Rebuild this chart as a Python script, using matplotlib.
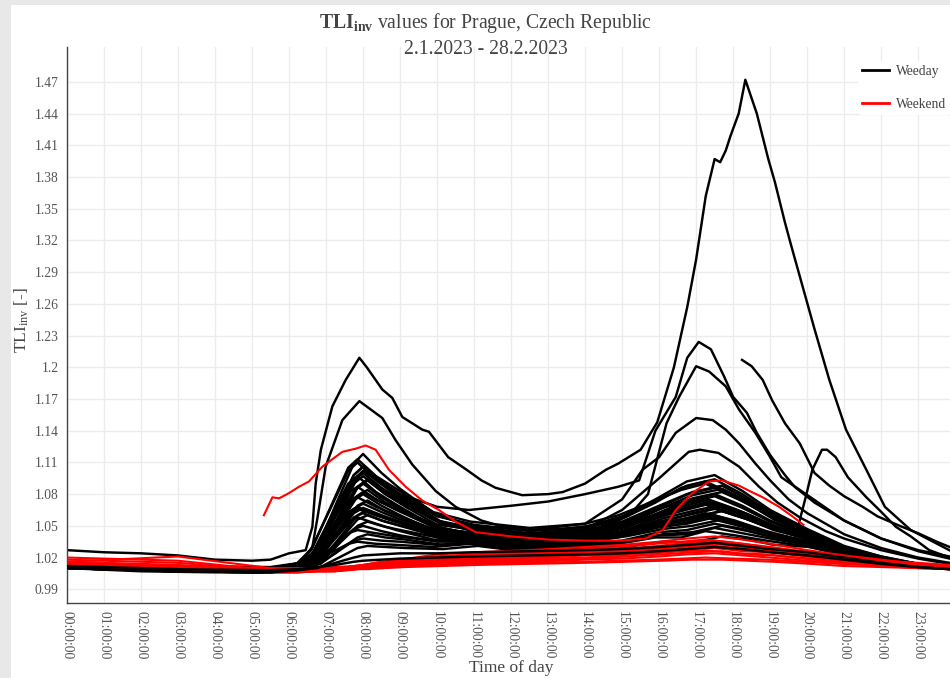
import matplotlib
matplotlib.use("Agg")
import matplotlib.pyplot as plt
from matplotlib.lines import Line2D
from matplotlib.patches import Rectangle

# ---------------- data ----------------
# three slightly different sampling grids: days peak a bit earlier / later
KEY_TIMES = [0, 3, 5.5, 6.25, 6.75, 7.25, 7.75, 8.0, 8.5, 9, 10, 11, 12.5, 14,
             15, 16, 16.75, 17.5, 18.25, 19, 20, 21, 22, 23, 23.85]
KEY_TIMES_EARLY = [0, 3, 5.5, 6.2, 6.6, 7.1, 7.6, 7.85, 8.35, 8.9, 9.9, 10.9, 12.5, 14,
                   14.9, 15.9, 16.6, 17.25, 18.05, 18.9, 19.9, 21, 22, 23, 23.85]
KEY_TIMES_LATE = [0, 3, 5.5, 6.3, 6.85, 7.35, 7.85, 8.12, 8.6, 9.15, 10.15, 11.1, 12.5, 14,
                  15.1, 16.1, 16.9, 17.7, 18.4, 19.1, 20.1, 21, 22, 23, 23.85]

WEEKDAY_ROWS = [
    [1.012, 1.009, 1.008, 1.012, 1.028, 1.069, 1.109, 1.118, 1.100, 1.085, 1.060, 1.049, 1.043, 1.047, 1.058, 1.077, 1.092, 1.098, 1.083, 1.065, 1.047, 1.031, 1.021, 1.014, 1.011],
    [1.014, 1.011, 1.010, 1.014, 1.028, 1.065, 1.102, 1.110, 1.093, 1.079, 1.056, 1.046, 1.040, 1.044, 1.055, 1.072, 1.086, 1.092, 1.079, 1.062, 1.045, 1.030, 1.020, 1.014, 1.011],
    [1.011, 1.008, 1.007, 1.011, 1.024, 1.060, 1.096, 1.104, 1.088, 1.075, 1.053, 1.044, 1.038, 1.042, 1.051, 1.067, 1.079, 1.085, 1.073, 1.058, 1.043, 1.029, 1.020, 1.013, 1.011],
    [1.013, 1.010, 1.009, 1.013, 1.025, 1.059, 1.093, 1.100, 1.086, 1.075, 1.055, 1.048, 1.042, 1.046, 1.053, 1.066, 1.074, 1.080, 1.069, 1.055, 1.042, 1.028, 1.019, 1.013, 1.011],
    [1.010, 1.007, 1.006, 1.010, 1.022, 1.056, 1.090, 1.097, 1.082, 1.070, 1.050, 1.042, 1.036, 1.040, 1.048, 1.061, 1.070, 1.076, 1.066, 1.053, 1.040, 1.028, 1.019, 1.013, 1.010],
    [1.015, 1.012, 1.011, 1.015, 1.026, 1.056, 1.086, 1.093, 1.080, 1.070, 1.051, 1.045, 1.039, 1.043, 1.053, 1.069, 1.082, 1.088, 1.075, 1.060, 1.044, 1.029, 1.020, 1.014, 1.011],
    [1.012, 1.009, 1.008, 1.012, 1.023, 1.053, 1.083, 1.090, 1.077, 1.066, 1.047, 1.040, 1.034, 1.038, 1.045, 1.058, 1.066, 1.072, 1.063, 1.051, 1.039, 1.027, 1.019, 1.013, 1.010],
    [1.011, 1.008, 1.007, 1.011, 1.021, 1.051, 1.081, 1.087, 1.075, 1.065, 1.049, 1.043, 1.037, 1.041, 1.047, 1.058, 1.064, 1.070, 1.061, 1.050, 1.039, 1.027, 1.019, 1.013, 1.010],
    [1.014, 1.011, 1.010, 1.014, 1.023, 1.051, 1.078, 1.084, 1.072, 1.063, 1.046, 1.041, 1.035, 1.039, 1.048, 1.064, 1.076, 1.082, 1.071, 1.056, 1.042, 1.029, 1.020, 1.013, 1.011],
    [1.013, 1.010, 1.009, 1.013, 1.022, 1.048, 1.074, 1.080, 1.069, 1.060, 1.044, 1.039, 1.033, 1.037, 1.043, 1.054, 1.060, 1.066, 1.058, 1.048, 1.037, 1.026, 1.018, 1.013, 1.010],
    [1.010, 1.007, 1.006, 1.010, 1.019, 1.045, 1.071, 1.077, 1.068, 1.060, 1.047, 1.044, 1.038, 1.042, 1.049, 1.060, 1.068, 1.074, 1.064, 1.052, 1.040, 1.027, 1.019, 1.013, 1.010],
    [1.012, 1.009, 1.008, 1.012, 1.020, 1.044, 1.069, 1.074, 1.064, 1.056, 1.042, 1.038, 1.032, 1.036, 1.042, 1.052, 1.058, 1.064, 1.056, 1.046, 1.037, 1.026, 1.018, 1.013, 1.010],
    [1.011, 1.008, 1.007, 1.011, 1.019, 1.042, 1.066, 1.071, 1.063, 1.056, 1.045, 1.042, 1.036, 1.040, 1.048, 1.062, 1.072, 1.078, 1.067, 1.054, 1.041, 1.028, 1.019, 1.013, 1.011],
    [1.014, 1.011, 1.010, 1.014, 1.020, 1.042, 1.063, 1.068, 1.060, 1.054, 1.042, 1.040, 1.034, 1.038, 1.042, 1.050, 1.054, 1.060, 1.053, 1.044, 1.036, 1.025, 1.018, 1.012, 1.010],
    [1.010, 1.007, 1.006, 1.010, 1.017, 1.038, 1.060, 1.065, 1.057, 1.051, 1.039, 1.037, 1.031, 1.035, 1.042, 1.054, 1.062, 1.068, 1.059, 1.049, 1.038, 1.026, 1.018, 1.013, 1.010],
    [1.013, 1.010, 1.009, 1.013, 1.019, 1.038, 1.058, 1.062, 1.055, 1.050, 1.040, 1.039, 1.033, 1.037, 1.041, 1.049, 1.052, 1.058, 1.051, 1.043, 1.035, 1.025, 1.018, 1.012, 1.010],
    [1.012, 1.009, 1.008, 1.012, 1.017, 1.036, 1.054, 1.058, 1.052, 1.046, 1.037, 1.036, 1.030, 1.034, 1.040, 1.050, 1.056, 1.062, 1.055, 1.045, 1.036, 1.026, 1.018, 1.012, 1.010],
    [1.011, 1.008, 1.007, 1.011, 1.015, 1.033, 1.050, 1.054, 1.049, 1.045, 1.038, 1.038, 1.032, 1.036, 1.040, 1.047, 1.050, 1.056, 1.050, 1.042, 1.034, 1.025, 1.017, 1.012, 1.010],
    [1.013, 1.010, 1.009, 1.013, 1.016, 1.032, 1.047, 1.050, 1.045, 1.041, 1.035, 1.035, 1.029, 1.033, 1.036, 1.044, 1.046, 1.052, 1.047, 1.040, 1.033, 1.024, 1.017, 1.012, 1.010],
    [1.010, 1.007, 1.006, 1.010, 1.013, 1.028, 1.043, 1.046, 1.043, 1.040, 1.036, 1.037, 1.031, 1.035, 1.039, 1.048, 1.052, 1.058, 1.051, 1.043, 1.035, 1.025, 1.018, 1.012, 1.010],
    [1.012, 1.009, 1.008, 1.012, 1.014, 1.027, 1.039, 1.042, 1.039, 1.037, 1.032, 1.034, 1.028, 1.032, 1.035, 1.042, 1.044, 1.050, 1.045, 1.039, 1.033, 1.024, 1.017, 1.012, 1.010],
    [1.011, 1.008, 1.007, 1.011, 1.013, 1.024, 1.036, 1.038, 1.036, 1.035, 1.032, 1.035, 1.029, 1.033, 1.035, 1.041, 1.042, 1.048, 1.043, 1.038, 1.032, 1.023, 1.017, 1.012, 1.010],
    [1.014, 1.011, 1.010, 1.014, 1.015, 1.024, 1.033, 1.035, 1.033, 1.032, 1.030, 1.033, 1.027, 1.031, 1.033, 1.039, 1.039, 1.045, 1.041, 1.036, 1.031, 1.023, 1.017, 1.012, 1.010],
    [1.011, 1.008, 1.007, 1.011, 1.011, 1.020, 1.029, 1.031, 1.030, 1.029, 1.028, 1.031, 1.025, 1.029, 1.030, 1.035, 1.034, 1.040, 1.037, 1.032, 1.030, 1.022, 1.016, 1.012, 1.009],
    [1.013, 1.010, 1.009, 1.013, 1.026, 1.062, 1.098, 1.106, 1.091, 1.079, 1.059, 1.051, 1.045, 1.049, 1.059, 1.075, 1.088, 1.094, 1.080, 1.063, 1.046, 1.030, 1.021, 1.014, 1.011],
    [1.012, 1.009, 1.008, 1.012, 1.027, 1.066, 1.105, 1.113, 1.097, 1.085, 1.063, 1.054, 1.048, 1.052, 1.060, 1.074, 1.084, 1.090, 1.077, 1.061, 1.045, 1.030, 1.020, 1.014, 1.011],
    [1.011, 1.008, 1.007, 1.011, 1.023, 1.055, 1.087, 1.094, 1.080, 1.068, 1.048, 1.041, 1.035, 1.039, 1.045, 1.057, 1.064, 1.070, 1.061, 1.050, 1.039, 1.027, 1.019, 1.013, 1.010],
    [1.013, 1.010, 1.009, 1.013, 1.022, 1.049, 1.076, 1.082, 1.072, 1.064, 1.051, 1.047, 1.041, 1.045, 1.054, 1.069, 1.080, 1.086, 1.074, 1.059, 1.043, 1.029, 1.020, 1.013, 1.011],
    [1.012, 1.009, 1.008, 1.012, 1.018, 1.040, 1.061, 1.066, 1.060, 1.054, 1.045, 1.044, 1.038, 1.042, 1.048, 1.059, 1.066, 1.072, 1.063, 1.051, 1.039, 1.027, 1.019, 1.013, 1.010],
    [1.010, 1.007, 1.006, 1.010, 1.016, 1.036, 1.056, 1.060, 1.054, 1.049, 1.041, 1.040, 1.034, 1.038, 1.043, 1.053, 1.058, 1.064, 1.056, 1.047, 1.037, 1.026, 1.018, 1.013, 1.010],
]

# weekdays that look like holidays (drawn on top of the red bundle)
HOLIDAY_ROWS = [
    [1.010, 1.007, 1.006, 1.008, 1.010, 1.015, 1.020, 1.022, 1.023, 1.024, 1.024, 1.025, 1.026, 1.027, 1.028, 1.030, 1.032, 1.034, 1.031, 1.028, 1.025, 1.020, 1.015, 1.011, 1.009],
    [1.012, 1.009, 1.008, 1.009, 1.011, 1.013, 1.016, 1.017, 1.018, 1.019, 1.020, 1.021, 1.022, 1.023, 1.024, 1.026, 1.028, 1.030, 1.028, 1.025, 1.022, 1.018, 1.014, 1.011, 1.009],
]

WEEKEND_ROWS = [
    [1.020, 1.017, 1.008, 1.008, 1.009, 1.009, 1.012, 1.013, 1.016, 1.018, 1.023, 1.025, 1.027, 1.030, 1.032, 1.035, 1.038, 1.040, 1.037, 1.033, 1.027, 1.022, 1.018, 1.014, 1.012],
    [1.016, 1.013, 1.007, 1.007, 1.008, 1.008, 1.011, 1.012, 1.015, 1.017, 1.021, 1.023, 1.025, 1.028, 1.030, 1.033, 1.035, 1.037, 1.034, 1.030, 1.025, 1.020, 1.016, 1.013, 1.011],
    [1.014, 1.012, 1.009, 1.009, 1.010, 1.010, 1.012, 1.013, 1.015, 1.017, 1.021, 1.022, 1.024, 1.027, 1.028, 1.031, 1.033, 1.035, 1.032, 1.029, 1.025, 1.021, 1.017, 1.015, 1.013],
    [1.012, 1.009, 1.006, 1.006, 1.007, 1.007, 1.009, 1.010, 1.013, 1.015, 1.018, 1.020, 1.022, 1.025, 1.026, 1.029, 1.031, 1.033, 1.030, 1.027, 1.023, 1.018, 1.015, 1.012, 1.010],
    [1.018, 1.015, 1.008, 1.008, 1.009, 1.009, 1.011, 1.012, 1.013, 1.015, 1.018, 1.020, 1.021, 1.024, 1.025, 1.028, 1.030, 1.032, 1.029, 1.027, 1.023, 1.019, 1.016, 1.014, 1.012],
    [1.011, 1.009, 1.007, 1.007, 1.008, 1.008, 1.010, 1.011, 1.012, 1.014, 1.017, 1.019, 1.020, 1.023, 1.024, 1.027, 1.029, 1.030, 1.027, 1.025, 1.021, 1.016, 1.013, 1.011, 1.009],
    [1.013, 1.012, 1.010, 1.010, 1.010, 1.011, 1.012, 1.013, 1.014, 1.015, 1.017, 1.018, 1.019, 1.022, 1.023, 1.026, 1.028, 1.029, 1.026, 1.025, 1.021, 1.017, 1.015, 1.012, 1.011],
    [1.010, 1.008, 1.006, 1.006, 1.007, 1.007, 1.008, 1.009, 1.011, 1.013, 1.015, 1.017, 1.018, 1.020, 1.022, 1.024, 1.026, 1.027, 1.024, 1.023, 1.019, 1.015, 1.013, 1.010, 1.009],
    [1.015, 1.012, 1.008, 1.008, 1.008, 1.009, 1.010, 1.011, 1.012, 1.013, 1.015, 1.016, 1.017, 1.019, 1.021, 1.023, 1.025, 1.026, 1.023, 1.022, 1.019, 1.016, 1.013, 1.011, 1.010],
    [1.012, 1.010, 1.007, 1.007, 1.007, 1.008, 1.009, 1.010, 1.011, 1.012, 1.014, 1.015, 1.016, 1.018, 1.019, 1.021, 1.023, 1.024, 1.022, 1.020, 1.017, 1.014, 1.012, 1.010, 1.009],
    [1.011, 1.010, 1.009, 1.009, 1.009, 1.009, 1.010, 1.010, 1.011, 1.012, 1.013, 1.014, 1.015, 1.016, 1.017, 1.018, 1.019, 1.020, 1.019, 1.018, 1.016, 1.014, 1.013, 1.012, 1.011],
    [1.014, 1.012, 1.008, 1.008, 1.008, 1.008, 1.009, 1.009, 1.010, 1.011, 1.012, 1.013, 1.014, 1.015, 1.016, 1.017, 1.018, 1.018, 1.017, 1.016, 1.014, 1.012, 1.011, 1.010, 1.010],
    [1.013, 1.010, 1.006, 1.006, 1.007, 1.007, 1.009, 1.011, 1.013, 1.015, 1.019, 1.021, 1.023, 1.026, 1.028, 1.031, 1.034, 1.036, 1.033, 1.030, 1.025, 1.020, 1.016, 1.013, 1.011],
    [1.016, 1.021, 1.010, 1.007, 1.008, 1.008, 1.010, 1.011, 1.013, 1.015, 1.018, 1.020, 1.021, 1.024, 1.025, 1.028, 1.030, 1.031, 1.029, 1.026, 1.022, 1.018, 1.014, 1.012, 1.010],
]

# outstanding weekday curves
PEAK_DAY_T = [0, 1, 2, 3, 4, 5, 5.5, 6.0, 6.45, 6.63, 6.72, 6.86, 7.17, 7.53, 7.9, 8.1, 8.52, 8.79, 9.06, 9.6, 9.78, 10.3, 10.8, 11.2, 11.58, 12.3, 13.0, 13.4, 14.0, 14.56, 14.9, 15.5, 15.95, 16.4, 16.76, 17.0, 17.26, 17.5, 17.65, 17.8, 17.93, 18.15, 18.33, 18.64, 18.95, 19.13, 19.4, 19.57, 20.2, 20.6, 21.05, 21.6, 22.1, 22.8, 23.84]
PEAK_DAY_V = [1.027, 1.025, 1.024, 1.022, 1.018, 1.017, 1.018, 1.024, 1.027, 1.049, 1.090, 1.122, 1.163, 1.188, 1.209, 1.200, 1.179, 1.171, 1.153, 1.141, 1.139, 1.115, 1.103, 1.093, 1.086, 1.079, 1.080, 1.082, 1.090, 1.103, 1.109, 1.122, 1.148, 1.200, 1.257, 1.302, 1.362, 1.397, 1.394, 1.405, 1.419, 1.440, 1.472, 1.440, 1.397, 1.375, 1.337, 1.315, 1.236, 1.188, 1.141, 1.103, 1.068, 1.046, 1.027]

SECOND_DAY_T = [0, 2, 4, 5.5, 6.3, 6.63, 6.77, 6.99, 7.44, 7.9, 8.52, 8.88, 9.33, 9.96, 10.5, 11.2, 11.7, 12.5, 13.5, 14.5, 15.2, 15.7, 16.2, 16.54, 17.0, 17.35, 17.8, 18.16, 18.6, 19.0, 19.3, 19.8, 20.3, 21.0, 22.0, 23.0, 23.85]
SECOND_DAY_V = [1.014, 1.011, 1.009, 1.010, 1.015, 1.030, 1.058, 1.106, 1.150, 1.168, 1.152, 1.131, 1.108, 1.083, 1.068, 1.055, 1.050, 1.046, 1.047, 1.052, 1.060, 1.080, 1.147, 1.172, 1.201, 1.196, 1.182, 1.160, 1.138, 1.115, 1.096, 1.084, 1.072, 1.055, 1.038, 1.026, 1.019]

THIRD_DAY_T = [0, 2, 4, 5.5, 6.25, 6.75, 7.25, 7.75, 8.0, 8.5, 9.0, 10.0, 10.86, 12.0, 13.0, 14.0, 14.9, 15.46, 15.9, 16.45, 16.76, 17.07, 17.4, 17.76, 18.0, 18.37, 18.64, 19.0, 19.4, 19.66, 20.2, 21.0, 22.0, 23.0, 23.85]
THIRD_DAY_V = [1.012, 1.009, 1.008, 1.008, 1.012, 1.026, 1.060, 1.094, 1.102, 1.090, 1.080, 1.068, 1.065, 1.069, 1.073, 1.080, 1.087, 1.093, 1.140, 1.172, 1.209, 1.224, 1.217, 1.191, 1.172, 1.157, 1.138, 1.117, 1.098, 1.087, 1.072, 1.055, 1.038, 1.027, 1.021]

FOURTH_DAY_T = [0, 2, 4, 5.5, 6.25, 6.75, 7.25, 7.75, 8.0, 8.5, 9.0, 10.0, 11.0, 12.5, 14.0, 15.0, 15.55, 16.0, 16.45, 17.0, 17.45, 17.8, 18.16, 18.6, 19.0, 19.5, 20.0, 21.0, 22.0, 23.0, 23.85]
FOURTH_DAY_V = [1.013, 1.010, 1.009, 1.009, 1.013, 1.027, 1.063, 1.098, 1.106, 1.092, 1.080, 1.060, 1.050, 1.046, 1.052, 1.075, 1.103, 1.115, 1.138, 1.152, 1.150, 1.141, 1.128, 1.109, 1.093, 1.075, 1.062, 1.042, 1.029, 1.020, 1.015]

FIFTH_DAY_T = [0, 2, 4, 5.5, 6.25, 6.75, 7.25, 7.75, 8.0, 8.5, 9.0, 10.0, 11.0, 12.5, 14.0, 15.0, 16.0, 16.8, 17.1, 17.6, 18.16, 18.7, 19.2, 19.8, 20.5, 21.0, 22.0, 23.0, 23.85]
FIFTH_DAY_V = [1.011, 1.008, 1.007, 1.007, 1.011, 1.024, 1.058, 1.090, 1.097, 1.084, 1.073, 1.055, 1.046, 1.041, 1.047, 1.065, 1.095, 1.120, 1.122, 1.119, 1.106, 1.087, 1.072, 1.058, 1.045, 1.038, 1.027, 1.019, 1.014]

LATE_DAY_T = [0, 2, 4, 5.5, 6.25, 6.75, 7.25, 7.75, 8.0, 8.5, 9.0, 10.0, 11.0, 12.5, 14.0, 15.0, 16.0, 16.75, 17.5, 18.25, 19.0, 19.65, 19.96, 20.14, 20.4, 20.54, 20.77, 21.1, 21.6, 21.95, 22.4, 22.8, 23.3, 23.85]
LATE_DAY_V = [1.010, 1.007, 1.006, 1.006, 1.010, 1.018, 1.040, 1.062, 1.067, 1.060, 1.054, 1.043, 1.040, 1.035, 1.038, 1.043, 1.052, 1.056, 1.060, 1.052, 1.042, 1.035, 1.077, 1.103, 1.122, 1.122, 1.115, 1.096, 1.077, 1.065, 1.049, 1.040, 1.027, 1.020]

EVENING_ONLY_T = [18.24, 18.5, 18.8, 19.05, 19.4, 19.8, 20.2, 20.6, 21.0, 21.5, 21.9, 22.5, 23.0, 23.5, 23.85]
EVENING_ONLY_V = [1.207, 1.201, 1.188, 1.169, 1.147, 1.128, 1.100, 1.088, 1.078, 1.068, 1.059, 1.050, 1.043, 1.035, 1.030]

# outstanding weekend curve (partial day)
WEEKEND_SPECIAL_T = [5.32, 5.55, 5.73, 6.0, 6.27, 6.54, 6.9, 7.44, 7.8, 8.07, 8.34, 8.7, 9.15, 9.6, 10.05, 10.5, 11.05, 12.0, 13.0, 14.0, 15.0, 15.64, 16.1, 16.45, 16.9, 17.35, 17.7, 18.16, 18.5, 18.8, 19.24, 19.6, 19.9]
WEEKEND_SPECIAL_V = [1.060, 1.077, 1.076, 1.081, 1.087, 1.092, 1.106, 1.120, 1.123, 1.126, 1.122, 1.103, 1.087, 1.074, 1.065, 1.054, 1.044, 1.040, 1.037, 1.036, 1.036, 1.038, 1.046, 1.065, 1.081, 1.092, 1.093, 1.088, 1.082, 1.077, 1.068, 1.059, 1.051]

HOUR_LABELS = [f"{h:02d}:00:00" for h in range(24)]
Y_TICKS = [0.99, 1.02, 1.05, 1.08, 1.11, 1.14, 1.17, 1.2, 1.23, 1.26, 1.29,
           1.32, 1.35, 1.38, 1.41, 1.44, 1.47]

# ---------------- styling ----------------
plt.rcParams["font.family"] = ["Liberation Serif", "DejaVu Serif"]
plt.rcParams["mathtext.fontset"] = "custom"
plt.rcParams["mathtext.rm"] = "Liberation Serif"
plt.rcParams["mathtext.bf"] = "Liberation Serif:bold"
plt.rcParams["mathtext.it"] = "Liberation Serif:italic"

W, H = 950, 678
fig = plt.figure(figsize=(W / 100, H / 100), dpi=100)
fig.patch.set_facecolor("#e8e8e8")
fig.add_artist(Rectangle((11 / W, 0), 1, 1 - 5 / H, transform=fig.transFigure,
                         facecolor="white", edgecolor="none", zorder=0))

ax = fig.add_axes([67 / W, 75 / H, 883 / W, 556 / H])
ax.set_facecolor("white")

BLACK_LW = 1.75
RED_LW = 1.5
GRIDS = [KEY_TIMES, KEY_TIMES_EARLY, KEY_TIMES_LATE]

for i, row in enumerate(WEEKDAY_ROWS):
    ax.plot(GRIDS[i % 3], row, color="black", lw=BLACK_LW, zorder=2)
for t, v in [(PEAK_DAY_T, PEAK_DAY_V), (SECOND_DAY_T, SECOND_DAY_V),
             (THIRD_DAY_T, THIRD_DAY_V), (FOURTH_DAY_T, FOURTH_DAY_V),
             (FIFTH_DAY_T, FIFTH_DAY_V), (LATE_DAY_T, LATE_DAY_V),
             (EVENING_ONLY_T, EVENING_ONLY_V)]:
    ax.plot(t, v, color="black", lw=BLACK_LW, zorder=2)
for i, row in enumerate(WEEKEND_ROWS):
    ax.plot(GRIDS[i % 3], row, color="red", lw=RED_LW, zorder=3)
ax.plot(WEEKEND_SPECIAL_T, WEEKEND_SPECIAL_V, color="red", lw=RED_LW, zorder=3)
for row in HOLIDAY_ROWS:
    ax.plot(KEY_TIMES, row, color="black", lw=BLACK_LW, zorder=4)

ax.set_xlim(0, 23.86)
ax.set_ylim(0.977, 1.503)
ax.set_xticks(range(24))
ax.set_xticklabels(HOUR_LABELS, rotation=-90)
ax.set_yticks(Y_TICKS)
ax.set_yticklabels([f"{v:g}" for v in Y_TICKS])
ax.tick_params(length=0, colors="#555555", labelsize=9.8, pad=6)
ax.grid(True, color="#ececec", lw=1.0, zorder=0)
ax.set_axisbelow(True)
for side in ["top", "right"]:
    ax.spines[side].set_visible(False)
for side in ["left", "bottom"]:
    ax.spines[side].set_color("#444444")
    ax.spines[side].set_linewidth(1.0)

fig.text(486 / W, 1 - 23 / H, r"$\mathbf{TLI}_{\mathbf{inv}}$ values for Prague, Czech Republic",
         ha="center", va="center", fontsize=14.2, color="#444444", zorder=10)
fig.text(486 / W, 1 - 49 / H, "2.1.2023 - 28.2.2023",
         ha="center", va="center", fontsize=14.1, color="#444444", zorder=10)
fig.text(22 / W, 1 - 320 / H, r"TLI$_{\mathrm{inv}}$ [-]", rotation=90,
         ha="center", va="center", fontsize=12.5, color="#444444")
fig.text(511 / W, 1 - 668 / H, "Time of day", ha="center", va="center",
         fontsize=12.5, color="#444444")

handles = [Line2D([], [], color="black", lw=2), Line2D([], [], color="red", lw=2)]
leg = ax.legend(handles, ["Weeday", "Weekend"], loc="upper left",
                bbox_to_anchor=(858 / W, 1 - 61 / H), bbox_transform=fig.transFigure,
                frameon=True, facecolor="white", edgecolor="none", framealpha=1,
                fontsize=9.8, handlelength=2.0, handletextpad=0.5,
                labelspacing=1.45, borderpad=0.3, borderaxespad=0)
for txt in leg.get_texts():
    txt.set_color("#444444")
leg.set_zorder(20)

fig.savefig("out.png", dpi=100, facecolor=fig.get_facecolor())
